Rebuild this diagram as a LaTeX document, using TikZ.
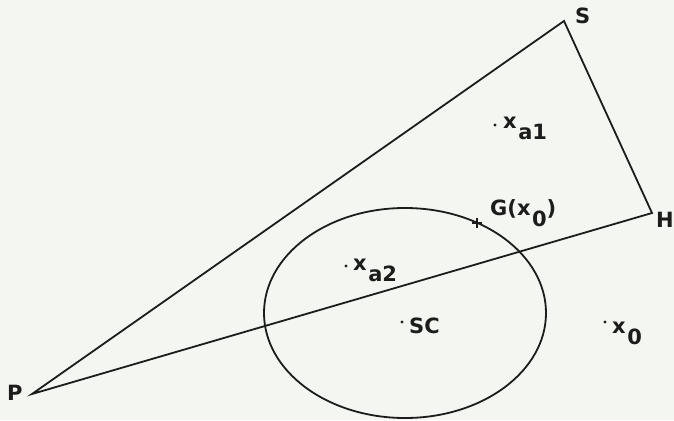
\documentclass[tikz,border=0pt]{standalone}
\usepackage{fontspec}
\setmainfont{DejaVu Sans}
\usepackage{tikz}
\usetikzlibrary{positioning}
\definecolor{paper}{RGB}{243,246,241}
\definecolor{ink}{RGB}{28,28,28}
\newcommand{\lowsub}[1]{\kern1.5pt\raisebox{-11pt}{#1}}
\tikzset{
  edge/.style ={draw=ink, line width=1.8pt},
  lbl/.style  ={font=\fontsize{21}{24}\selectfont\bfseries, text=ink, inner sep=0pt, anchor=base west},
  pdot/.style ={circle, fill=ink, inner sep=0pt, minimum size=3.4pt},
  tick/.style ={draw=ink, line width=1.5pt},
}

\begin{document}
\begin{tikzpicture}[x=1pt,y=-1pt]
\fill[paper] (0,0) rectangle (674,420);
\useasboundingbox (0,0) rectangle (674,420);

% triangle corners
\coordinate (p) at (32,394);
\coordinate (s) at (564,21);
\coordinate (h) at (652,213);
\coordinate (ctr) at (405,313);
\coordinate (g) at (477,223);

\node[lbl] (plbl) at (7,400) {P};
\node[lbl] (slbl) at (575,24) {S};
\node[lbl] (hlbl) at (656,227) {H};

\draw[edge] (p) -- (s) -- (h) -- cycle;
\draw[edge] (ctr) ellipse [x radius=141pt, y radius=105pt];

% points
\node[pdot] (xa1) at (495,125) {};
\node[lbl] (xa1lbl) at (503,128) {x\lowsub{a1}};
\node[pdot] (xa2) at (346,266) {};
\node[lbl] (xa2lbl) at (353,270) {x\lowsub{a2}};
\node[pdot] (sc) at (402,322) {};
\node[lbl] (sclbl) at (409,333) {SC};
\node[pdot] (x0) at (605,322) {};
\node[lbl] (x0lbl) at (612,333) {x\lowsub{0}};

\draw[tick] ([xshift=-5pt]g) -- ([xshift=5pt]g);
\draw[tick] ([yshift=-5pt]g) -- ([yshift=5pt]g);
\node[lbl] (glbl) at (490,215) {G(x\lowsub{0})};
\end{tikzpicture}
\end{document}
